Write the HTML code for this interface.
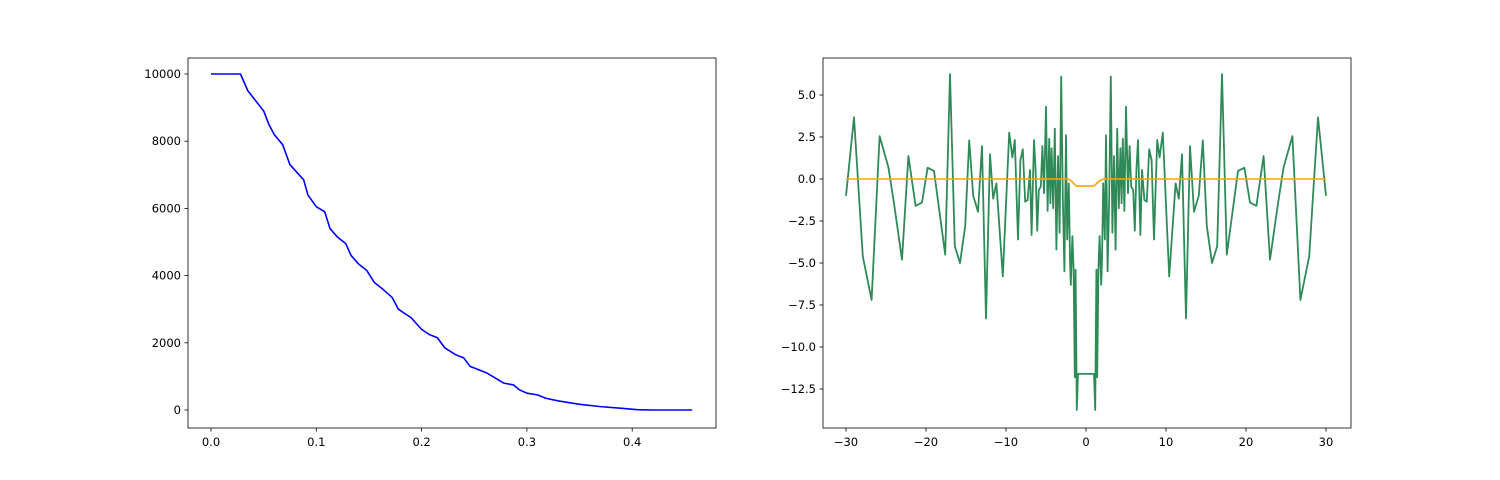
<!DOCTYPE html>
<html><head><meta charset="utf-8"><style>
body{margin:0;background:#fff;}
svg{display:block;font-family:"DejaVu Sans","Liberation Sans",sans-serif;}
</style></head>
<body>
<svg id="fig" width="1500" height="480"></svg>
<script>
const leftX=[0,0.028,0.035,0.05,0.055,0.06,0.068,0.075,0.088,0.092,0.1,0.108,0.113,0.12,0.128,0.133,0.14,0.148,0.155,0.163,0.172,0.178,0.185,0.19,0.2,0.207,0.215,0.222,0.232,0.24,0.246,0.262,0.27,0.278,0.287,0.293,0.3,0.31,0.318,0.33,0.35,0.37,0.39,0.405,0.42,0.457];
const leftY=[10000,10000,9500,8900,8500,8200,7900,7300,6850,6400,6050,5900,5400,5150,4950,4600,4350,4150,3800,3600,3350,3000,2850,2750,2400,2250,2150,1850,1650,1550,1300,1100,950,800,750,600,500,450,350,270,170,100,50,10,0,0];
const leftXTicks=[0.0,0.1,0.2,0.3,0.4];
const leftYTicks=[0,2000,4000,6000,8000,10000];
const greenHalfX=[-30,-29,-27.9,-26.8,-25.8,-24.7,-24,-23,-22.2,-21.3,-20.5,-19.8,-19,-17.6,-17,-16.4,-15.75,-15.1,-14.6,-14.1,-13.5,-13,-12.5,-12,-11.6,-11.2,-10.4,-9.6,-9.2,-8.9,-8.5,-8.2,-7.9,-7.6,-7.3,-7.0,-6.8,-6.5,-6.3,-6.1,-5.9,-5.65,-5.45,-5.25,-5.0,-4.8,-4.6,-4.45,-4.3,-4.1,-3.9,-3.7,-3.5,-3.3,-3.1,-2.9,-2.7,-2.5,-2.35,-2.15,-2.0,-1.9,-1.7,-1.55,-1.4,-1.3,-1.15,-1.0];
const greenHalfY=[-1.0,3.67,-4.6,-7.2,2.55,0.7,-1.45,-4.8,1.37,-1.6,-1.4,0.67,0.48,-4.5,6.25,-4.0,-5.0,-2.8,2.3,-1.0,-1.95,1.96,-8.3,1.47,-1.17,-0.26,-5.8,2.76,1.29,2.32,-3.6,1.13,1.77,-1.35,-1.25,0.54,-3.33,2.32,0.54,-3.08,-0.65,-0.46,1.96,-0.85,4.3,-1.9,2.4,-1.45,1.83,-1.75,3.0,-4.2,1.37,-3.2,6.1,-1.05,-5.5,2.6,-3.6,-0.26,-4.8,-6.3,-3.4,-5.4,-11.8,-5.4,-13.75,-11.6];
const orangeX=[-30,-2.2,-1.9,-1.2,1.0,1.7,2.2,30];
const orangeY=[0,0,-0.1,-0.42,-0.42,-0.1,0,0];
const rightXTicks=[-30,-20,-10,0,10,20,30];
const rightYTicks=[-12.5,-10,-7.5,-5,-2.5,0,2.5,5];

const NS="http://www.w3.org/2000/svg";
const svg=document.getElementById('fig');
function el(t,a,p){const e=document.createElementNS(NS,t);for(const k in a)e.setAttribute(k,a[k]);(p||svg).appendChild(e);return e;}

function axes(name,x0,y0,w,h,sx,sy,xt,yt,xfmt,yfmt){
  const g=el('g',{});
  
  
  const fr=el('rect',{x:x0,y:y0,width:w,height:h,fill:'none',stroke:'#000','stroke-width':0.8},g);
  
  
  xt.forEach(v=>{const px=sx(v);
    const tk=el('line',{x1:px,x2:px,y1:y0+h,y2:y0+h+3.5,stroke:'#000','stroke-width':0.8},g);
    
    
    const t=el('text',{x:px,y:y0+h+18,'font-size':11.5,'text-anchor':'middle'},g);t.textContent=xfmt(v);
    
    });
  yt.forEach(v=>{const py=sy(v);
    const tk=el('line',{x1:x0-3.5,x2:x0,y1:py,y2:py,stroke:'#000','stroke-width':0.8},g);
    
    
    const t=el('text',{x:x0-7,y:py+4,'font-size':11.5,'text-anchor':'end'},g);t.textContent=yfmt(v);
    
    });
  return g;
}
function line(g,xs,ys,sx,sy,color,name,w){
  const d=xs.map((x,i)=>(i?'L':'M')+sx(x).toFixed(2)+','+sy(ys[i]).toFixed(2)).join('');
  const p=el('path',{d:d,fill:'none',stroke:color,'stroke-width':w||1.5,'stroke-linejoin':'round'},g);
  
  
}
const lsx=v=>211+v*1053, lsy=v=>410-v*0.0336;
const gl=axes('left-axes',188,58,528,370,lsx,lsy,leftXTicks,leftYTicks,v=>v.toFixed(1),v=>String(v));
line(gl,leftX,leftY,lsx,lsy,'#0000ff','blue-decay-line',1.6);
const rsx=v=>846+(v+30)*8, rsy=v=>179-v*16.8;
const gr=axes('right-axes',823,58,528,370,rsx,rsy,rightXTicks,rightYTicks,v=>String(v).replace('-','\u2212'),v=>v.toFixed(1).replace('-','\u2212'));
const gx=greenHalfX.concat([1.0].concat(greenHalfX.slice(0,-1).reverse().map(v=>-v)));
const gy=greenHalfY.concat([-11.6].concat(greenHalfY.slice(0,-1).reverse()));
line(gr,gx,gy,rsx,rsy,'#2e8b57','green-series',1.8);
line(gr,orangeX,orangeY,rsx,rsy,'#ffa500','orange-series',1.6);
</script>
</body></html>
